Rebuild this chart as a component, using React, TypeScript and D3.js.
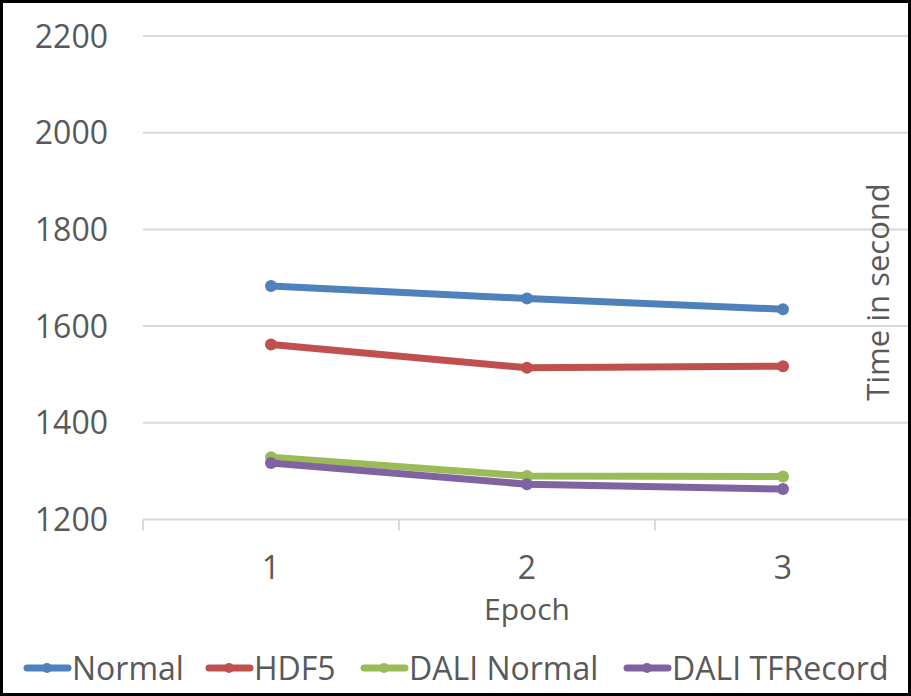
import React from 'react'
import * as d3 from 'd3'

const epochs = ['1', '2', '3']
const normal = [1683, 1657, 1635]
const hdf5 = [1562, 1514, 1517]
const daliNormal = [1329, 1290, 1289]
const daliTFRecord = [1317, 1273, 1263]
const yTicks = [1200, 1400, 1600, 1800, 2000, 2200]

const seriesNames = ['Normal', 'HDF5', 'DALI Normal', 'DALI TFRecord']
const seriesValues = [normal, hdf5, daliNormal, daliTFRecord]
const colors = ['#4f81bd', '#c0504d', '#9bbb59', '#8064a2']

const App = () => {
	// svg size
	const width = 911,
		height = 696
	const font = '"Open Sans", "Noto Sans", sans-serif'
	const textColor = '#595959'

	const x = d3.scaleBand().domain(epochs).range([143, 911])
	const y = d3.scaleLinear().domain([1200, 2200]).range([519.5, 36])

	const line = d3
		.line<number>()
		.x((d, i) => x(epochs[i])! + x.bandwidth() / 2)
		.y((d) => y(d))

	// legend layout: marker start x for each entry
	const legendX = [25, 207, 362, 625]

	return (
		<div>
			<style>{'body{margin:0}'}</style>
			<svg width={width} height={height} style={{ display: 'block' }}>
				<rect x={0} y={0} width={width} height={height} fill='#fff' />
				<defs>
					<clipPath id='plotclip'>
						<rect x={0} y={0} width={908} height={height} />
					</clipPath>
				</defs>
				<g clipPath='url(#plotclip)'>
					{yTicks.slice(1).map((t) => (
						<line
							key={t}
							x1={143}
							x2={911}
							y1={y(t)}
							y2={y(t)}
							stroke='#d9d9d9'
							strokeWidth={2}
						/>
					))}
					{/* x axis line and ticks */}
					<line x1={143} x2={911} y1={y(1200)} y2={y(1200)} stroke='#d9d9d9' strokeWidth={2} />
					{[...epochs.map((e) => x(e)!), 911].map((tx, i) => (
						<line key={i} x1={tx} x2={tx} y1={y(1200)} y2={y(1200) + 11} stroke='#d9d9d9' strokeWidth={2} />
					))}
				</g>

				{yTicks.map((t) => (
					<text
						key={t}
						x={108}
						y={y(t)}
						dy='0.36em'
						textAnchor='end'
						fontFamily={font}
						fontSize={32}
						fill={textColor}
					>
						{t}
					</text>
				))}

				{epochs.map((e) => (
					<text
						key={e}
						x={x(e)! + x.bandwidth() / 2}
						y={567}
						dy='0.36em'
						textAnchor='middle'
						fontFamily={font}
						fontSize={32}
						fill={textColor}
					>
						{e}
					</text>
				))}

				<text x={527} y={609} dy='0.36em' textAnchor='middle' fontFamily={font} fontSize={30} fill={textColor}>
					Epoch
				</text>

				<text
					transform='translate(878,292) rotate(-90)'
					dy='0.36em'
					textAnchor='middle'
					fontFamily={font}
					fontSize={31}
					fill={textColor}
				>
					Time in second
				</text>

				{seriesValues.map((vals, si) => (
					<g key={si}>
						<path d={line(vals)!} fill='none' stroke={colors[si]} strokeWidth={7} strokeLinejoin='round' />
						{vals.map((v, i) => (
							<circle key={i} cx={x(epochs[i])! + x.bandwidth() / 2} cy={y(v)} r={6} fill={colors[si]} />
						))}
					</g>
				))}

				{seriesNames.map((name, i) => (
					<g key={name} transform={`translate(${legendX[i]},668)`}>
						<line x1={2} x2={43} y1={0} y2={0} stroke={colors[i]} strokeWidth={7} strokeLinecap='round' />
						<circle cx={22} cy={0} r={5} fill={colors[i]} />
						<text x={47} y={0} dy='0.36em' fontFamily={font} fontSize={32} fill={textColor}>
							{name}
						</text>
					</g>
				))}

				<rect x={1.5} y={1.5} width={width - 3} height={height - 3} fill='none' stroke='#000' strokeWidth={3} />
			</svg>
		</div>
	)
}

export default App
